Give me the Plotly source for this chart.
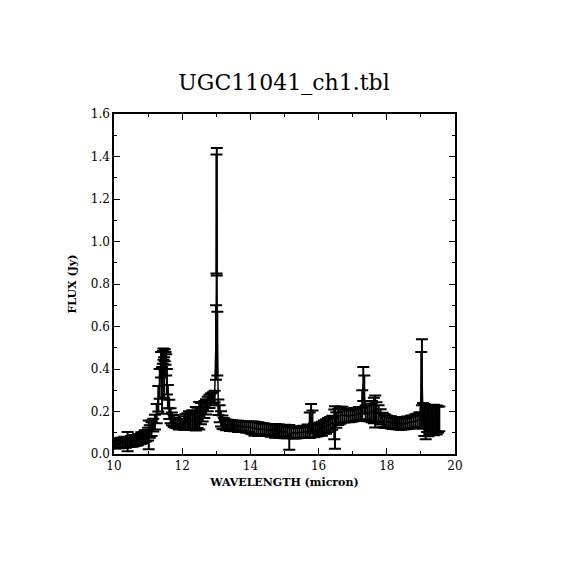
import plotly.graph_objects as go

# spectrum (wavelength in micron, flux and error in Jy)
wavelength = [10.00, 10.05, 10.10, 10.15, 10.20, 10.25, 10.30, 10.35, 10.40, 10.45,
              10.50, 10.55, 10.60, 10.65, 10.70, 10.75, 10.80, 10.85, 10.90, 10.95,
              11.00, 11.02, 11.05, 11.10, 11.15, 11.20, 11.25, 11.30, 11.34, 11.38,
              11.41, 11.43, 11.45, 11.47, 11.49, 11.51, 11.53, 11.55, 11.58, 11.62,
              11.66, 11.70, 11.75, 11.80, 11.85, 11.90, 11.95, 12.00, 12.05, 12.10,
              12.15, 12.20, 12.25, 12.30, 12.35, 12.40, 12.45, 12.50, 12.55, 12.60,
              12.65, 12.70, 12.75, 12.80, 12.85, 12.90, 12.95, 12.99, 13.005, 13.015,
              13.03, 13.06, 13.10, 13.14, 13.18, 13.22, 13.28, 13.34, 13.40, 13.46,
              13.52, 13.58, 13.64, 13.70, 13.76, 13.82, 13.88, 13.94, 14.00, 14.06,
              14.12, 14.18, 14.24, 14.30, 14.36, 14.42, 14.48, 14.54, 14.60, 14.66,
              14.72, 14.78, 14.84, 14.90, 14.96, 15.02, 15.08, 15.14, 15.20, 15.26,
              15.32, 15.38, 15.44, 15.50, 15.56, 15.62, 15.68, 15.74, 15.78, 15.82,
              15.86, 15.92, 15.98, 16.04, 16.10, 16.16, 16.22, 16.28, 16.34, 16.40,
              16.46, 16.48, 16.52, 16.58, 16.64, 16.70, 16.76, 16.82, 16.88, 16.94,
              17.00, 17.06, 17.12, 17.18, 17.24, 17.28, 17.31, 17.34, 17.38, 17.44,
              17.50, 17.56, 17.62, 17.66, 17.70, 17.76, 17.82, 17.88, 17.94, 18.00,
              18.06, 18.12, 18.18, 18.24, 18.30, 18.36, 18.42, 18.48, 18.54, 18.60,
              18.66, 18.72, 18.78, 18.84, 18.90, 18.96, 19.01, 19.03, 19.06, 19.10,
              19.14, 19.18, 19.22, 19.26, 19.30, 19.34, 19.38, 19.42, 19.46, 19.50,
              19.54]

flux = [0.048, 0.044, 0.052, 0.046, 0.053, 0.048, 0.056, 0.050, 0.058, 0.053,
        0.061, 0.056, 0.064, 0.060, 0.067, 0.070, 0.075, 0.077, 0.084, 0.086,
        0.093, 0.090, 0.106, 0.117, 0.136, 0.150, 0.190, 0.260, 0.330, 0.420,
        0.300, 0.455, 0.470, 0.360, 0.465, 0.450, 0.420, 0.340, 0.270, 0.210,
        0.180, 0.165, 0.155, 0.148, 0.143, 0.139, 0.140, 0.141, 0.146, 0.151,
        0.154, 0.159, 0.155, 0.161, 0.157, 0.166, 0.170, 0.180, 0.190, 0.198,
        0.210, 0.222, 0.235, 0.248, 0.258, 0.265, 0.270, 0.525, 1.130, 1.140,
        0.520, 0.220, 0.190, 0.165, 0.150, 0.143, 0.137, 0.138, 0.134, 0.136,
        0.132, 0.134, 0.130, 0.132, 0.128, 0.130, 0.126, 0.128, 0.124, 0.123,
        0.119, 0.121, 0.117, 0.119, 0.115, 0.117, 0.113, 0.115, 0.111, 0.113,
        0.109, 0.111, 0.108, 0.109, 0.105, 0.106, 0.102, 0.078, 0.102, 0.099,
        0.101, 0.098, 0.102, 0.101, 0.105, 0.104, 0.109, 0.135, 0.170, 0.150,
        0.111, 0.112, 0.111, 0.118, 0.119, 0.127, 0.129, 0.137, 0.139, 0.147,
        0.140, 0.125, 0.160, 0.175, 0.182, 0.186, 0.181, 0.182, 0.177, 0.181,
        0.181, 0.186, 0.185, 0.189, 0.189, 0.230, 0.330, 0.280, 0.196, 0.191,
        0.196, 0.199, 0.205, 0.200, 0.198, 0.190, 0.175, 0.160, 0.155, 0.152,
        0.149, 0.149, 0.145, 0.146, 0.143, 0.144, 0.141, 0.144, 0.143, 0.147,
        0.147, 0.151, 0.151, 0.156, 0.157, 0.160, 0.300, 0.385, 0.180, 0.160,
        0.150, 0.165, 0.155, 0.160, 0.158, 0.162, 0.160, 0.165, 0.160, 0.162,
        0.165]

flux_err = [0.020, 0.018, 0.022, 0.019, 0.023, 0.020, 0.025, 0.021, 0.045, 0.020,
            0.024, 0.022, 0.025, 0.021, 0.026, 0.024, 0.027, 0.025, 0.028, 0.026,
            0.030, 0.068, 0.029, 0.032, 0.030, 0.035, 0.045, 0.060, 0.070, 0.060,
            0.110, 0.030, 0.026, 0.095, 0.028, 0.030, 0.050, 0.060, 0.055, 0.045,
            0.035, 0.030, 0.028, 0.024, 0.022, 0.024, 0.021, 0.023, 0.032, 0.036,
            0.038, 0.042, 0.040, 0.045, 0.040, 0.055, 0.048, 0.065, 0.050, 0.045,
            0.040, 0.036, 0.034, 0.031, 0.028, 0.026, 0.028, 0.175, 0.280, 0.300,
            0.150, 0.036, 0.040, 0.036, 0.031, 0.027, 0.025, 0.023, 0.026, 0.022,
            0.025, 0.023, 0.026, 0.022, 0.025, 0.023, 0.026, 0.024, 0.028, 0.030,
            0.033, 0.028, 0.032, 0.027, 0.030, 0.026, 0.028, 0.025, 0.030, 0.027,
            0.032, 0.028, 0.031, 0.027, 0.030, 0.032, 0.028, 0.058, 0.027, 0.025,
            0.028, 0.024, 0.027, 0.025, 0.028, 0.026, 0.030, 0.060, 0.065, 0.055,
            0.032, 0.030, 0.028, 0.030, 0.033, 0.031, 0.034, 0.032, 0.035, 0.033,
            0.070, 0.100, 0.036, 0.038, 0.040, 0.036, 0.033, 0.030, 0.028, 0.030,
            0.028, 0.030, 0.028, 0.032, 0.030, 0.070, 0.080, 0.090, 0.032, 0.037,
            0.042, 0.050, 0.060, 0.075, 0.045, 0.040, 0.036, 0.034, 0.032, 0.029,
            0.027, 0.029, 0.027, 0.028, 0.026, 0.029, 0.027, 0.028, 0.027, 0.029,
            0.028, 0.030, 0.029, 0.031, 0.032, 0.036, 0.180, 0.155, 0.060, 0.075,
            0.080, 0.062, 0.072, 0.058, 0.068, 0.062, 0.072, 0.058, 0.068, 0.062,
            0.058]

x_ticks = [10, 12, 14, 16, 18, 20]
y_ticks = [0.0, 0.2, 0.4, 0.6, 0.8, 1.0, 1.2, 1.4, 1.6]

serif = "DejaVu Serif"
# the page body adds an 8px offset, so the margins are shifted to compensate
shift = 8


def axis_style(tickvals, rng, minor_step, fmt):
    return dict(
        range=rng,
        tickvals=tickvals,
        tickformat=fmt,
        ticks="inside",
        ticklen=6,
        tickwidth=1,
        tickcolor="black",
        minor=dict(dtick=minor_step, ticks="inside", ticklen=3, tickcolor="black"),
        showline=True,
        linecolor="black",
        linewidth=1.5,
        mirror="ticks",
        showgrid=False,
        zeroline=False,
        tickfont=dict(family=serif, size=12, color="black"),
    )


fig = go.Figure()
fig.add_trace(go.Scatter(
    x=wavelength,
    y=flux,
    mode="lines",
    line=dict(color="black", width=1.5),
    error_y=dict(type="data", array=flux_err, visible=True,
                 color="black", thickness=2, width=6),
    showlegend=False,
))

xa = axis_style(x_ticks, [10, 20], 1, "d")
xa["title"] = dict(text="<b>WAVELENGTH (micron)</b>",
                   font=dict(family=serif, size=11, color="black"), standoff=6)
ya = axis_style(y_ticks, [0, 1.6], 0.1, ".1f")
ya["title"] = dict(text="<b>FLUX (Jy)</b>",
                   font=dict(family=serif, size=11, color="black"), standoff=12)

fig.update_layout(
    width=570,
    height=570,
    margin=dict(l=114 - shift, r=115 + shift, t=114 - shift, b=116 + shift),
    paper_bgcolor="white",
    plot_bgcolor="white",
    title=dict(text="UGC11041_ch1.tbl", x=(284 - shift) / 570, xanchor="center",
               y=1 - (82 - shift) / 570, yanchor="middle", yref="container",
               font=dict(family=serif, size=22, color="black")),
    xaxis=xa,
    yaxis=ya,
)

fig.write_html("out.html")
